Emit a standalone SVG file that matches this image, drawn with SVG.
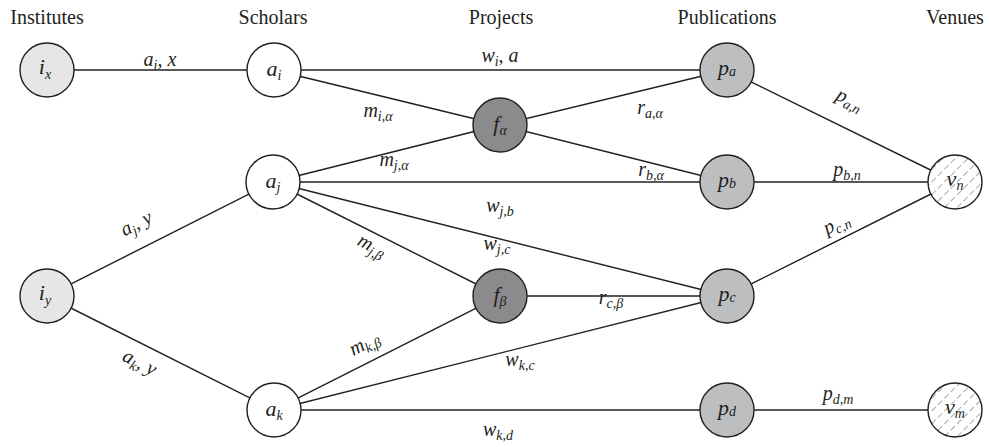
<svg xmlns="http://www.w3.org/2000/svg" width="989" height="447" viewBox="0 0 989 447">
<style>
.hd{font-family:"Liberation Serif",serif;font-size:20px;fill:#231f20;text-anchor:middle}
.el{font-family:"Liberation Serif",serif;font-style:italic;font-size:20px;fill:#231f20;text-anchor:middle}
.nl{font-family:"Liberation Serif",serif;font-style:italic;font-size:22px;fill:#231f20;text-anchor:middle}
.s{font-size:14px}
.edge{stroke:#231f20;stroke-width:1.4;fill:none}
.nd{stroke:#231f20;stroke-width:1.4}
.inst{fill:#e6e6e7}
.sch{fill:#ffffff}
.prj{fill:#8b8b8d}
.pub{fill:#bdbec0}
.ven{fill:url(#hatch)}
</style>
<defs>
<pattern id="hatch" patternUnits="userSpaceOnUse" width="9" height="9" patternTransform="rotate(-45)">
<rect width="9" height="9" fill="#ffffff"/>
<line x1="0" y1="4.5" x2="9" y2="4.5" stroke="#a8a8a8" stroke-width="1" stroke-dasharray="5 3"/>
</pattern>
</defs>
<g id="headers">
<text class="hd" x="47" y="24">Institutes</text>
<text class="hd" x="273" y="24">Scholars</text>
<text class="hd" x="501" y="24">Projects</text>
<text class="hd" x="727" y="24">Publications</text>
<text class="hd" x="955" y="24">Venues</text>
</g>
<g id="connectors">
<line class="edge" x1="47" y1="70" x2="274" y2="70"/>
<line class="edge" x1="47" y1="296" x2="273" y2="182"/>
<line class="edge" x1="47" y1="296" x2="274" y2="410"/>
<line class="edge" x1="274" y1="70" x2="727" y2="70"/>
<line class="edge" x1="274" y1="70" x2="500" y2="125"/>
<line class="edge" x1="500" y1="125" x2="727" y2="70"/>
<line class="edge" x1="273" y1="182" x2="500" y2="125"/>
<line class="edge" x1="500" y1="125" x2="727" y2="182"/>
<line class="edge" x1="273" y1="182" x2="727" y2="182"/>
<line class="edge" x1="273" y1="182" x2="727" y2="296"/>
<line class="edge" x1="273" y1="182" x2="500" y2="296"/>
<line class="edge" x1="500" y1="296" x2="727" y2="296"/>
<line class="edge" x1="274" y1="410" x2="500" y2="296"/>
<line class="edge" x1="274" y1="410" x2="727" y2="296"/>
<line class="edge" x1="274" y1="410" x2="727" y2="410"/>
<line class="edge" x1="727" y1="70" x2="955" y2="182"/>
<line class="edge" x1="727" y1="182" x2="955" y2="182"/>
<line class="edge" x1="727" y1="296" x2="955" y2="182"/>
<line class="edge" x1="727" y1="410" x2="955" y2="410"/>
</g>
<g id="edge-labels">
<text class="el" x="160" y="66">a<tspan class="s" dy="4">i</tspan><tspan dy="-4">, x</tspan></text>
<text class="el" x="500" y="62">w<tspan class="s" dy="4">i</tspan><tspan dy="-4">, a</tspan></text>
<text class="el" x="378" y="117">m<tspan class="s" dy="4">i,α</tspan></text>
<text class="el" x="650" y="114">r<tspan class="s" dy="4">a,α</tspan></text>
<text class="el" x="394" y="166">m<tspan class="s" dy="4">j,α</tspan></text>
<text class="el" x="651" y="176">r<tspan class="s" dy="4">b,α</tspan></text>
<text class="el" x="500" y="212">w<tspan class="s" dy="4">j,b</tspan></text>
<text class="el" x="497" y="250">w<tspan class="s" dy="4">j,c</tspan></text>
<text class="el" x="611" y="304">r<tspan class="s" dy="4">c,β</tspan></text>
<text class="el" x="520" y="366">w<tspan class="s" dy="4">k,c</tspan></text>
<text class="el" x="498" y="436">w<tspan class="s" dy="4">k,d</tspan></text>
<text class="el" x="847" y="176">p<tspan class="s" dy="4">b,n</tspan></text>
<text class="el" x="838" y="400">p<tspan class="s" dy="4">d,m</tspan></text>
<text class="el" transform="translate(139,229) rotate(-27)">a<tspan class="s" dy="4">j</tspan><tspan dy="-4">, y</tspan></text>
<text class="el" transform="translate(137,368) rotate(27)">a<tspan class="s" dy="4">k</tspan><tspan dy="-4">, y</tspan></text>
<text class="el" transform="translate(369,251) rotate(27)">m<tspan class="s" dy="4">j,β</tspan></text>
<text class="el" transform="translate(367,349) rotate(-27)">m<tspan class="s" dy="4">k,β</tspan></text>
<text class="el" transform="translate(847,105) rotate(26)">p<tspan class="s" dy="4">a,n</tspan></text>
<text class="el" transform="translate(839,229) rotate(-26)">p<tspan class="s" dy="4">c,n</tspan></text>
</g>
<g id="node-ix"><circle class="nd inst" cx="47" cy="70" r="27"/><text class="nl" x="45" y="74">i<tspan class="s" dy="5">x</tspan></text></g>
<g id="node-iy"><circle class="nd inst" cx="47" cy="296" r="27"/><text class="nl" x="45" y="300">i<tspan class="s" dy="5">y</tspan></text></g>
<g id="node-ai"><circle class="nd sch" cx="274" cy="70" r="27"/><text class="nl" x="274" y="76">a<tspan class="s" dy="4">i</tspan></text></g>
<g id="node-aj"><circle class="nd sch" cx="273" cy="182" r="27"/><text class="nl" x="273" y="188">a<tspan class="s" dy="4">j</tspan></text></g>
<g id="node-ak"><circle class="nd sch" cx="274" cy="410" r="27"/><text class="nl" x="274" y="416">a<tspan class="s" dy="4">k</tspan></text></g>
<g id="node-fa"><circle class="nd prj" cx="500" cy="125" r="27"/><text class="nl" x="500" y="131">f<tspan class="s" dy="4">α</tspan></text></g>
<g id="node-fb"><circle class="nd prj" cx="500" cy="296" r="27"/><text class="nl" x="500" y="302">f<tspan class="s" dy="4">β</tspan></text></g>
<g id="node-pa"><circle class="nd pub" cx="727" cy="70" r="27"/><text class="nl" x="727" y="75">p<tspan class="s" dy="1">a</tspan></text></g>
<g id="node-pb"><circle class="nd pub" cx="727" cy="182" r="27"/><text class="nl" x="727" y="187">p<tspan class="s" dy="1">b</tspan></text></g>
<g id="node-pc"><circle class="nd pub" cx="727" cy="296" r="27"/><text class="nl" x="727" y="301">p<tspan class="s" dy="1">c</tspan></text></g>
<g id="node-pd"><circle class="nd pub" cx="727" cy="410" r="27"/><text class="nl" x="727" y="415">p<tspan class="s" dy="1">d</tspan></text></g>
<g id="node-vn"><circle class="nd ven" cx="955" cy="182" r="27"/><text class="nl" x="955" y="186">v<tspan class="s" dy="4">n</tspan></text></g>
<g id="node-vm"><circle class="nd ven" cx="955" cy="410" r="27"/><text class="nl" x="955" y="414">v<tspan class="s" dy="4">m</tspan></text></g>
</svg>
